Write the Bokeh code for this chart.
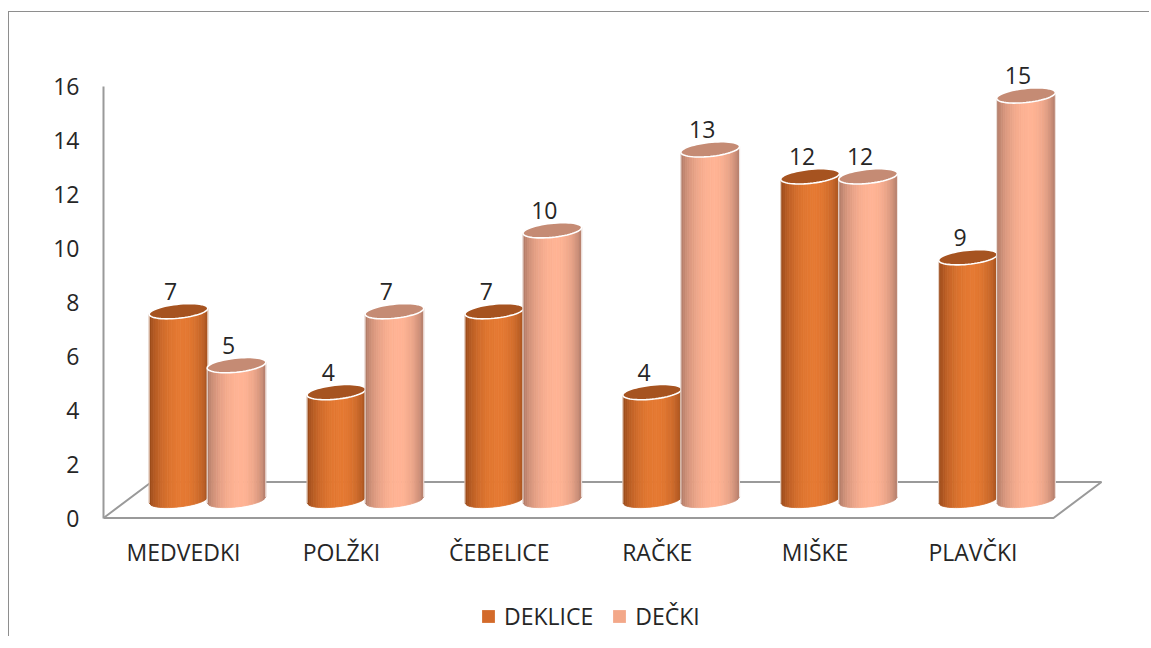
import numpy as np
from bokeh.plotting import figure
from bokeh.models import FixedTicker, Legend, LegendItem
from bokeh.core.properties import value
from bokeh.embed import file_html
from bokeh.resources import INLINE

# ---------------- data ----------------
categories = ["MEDVEDKI", "POLŽKI", "ČEBELICE", "RAČKE", "MIŠKE", "PLAVČKI"]
deklice = [7, 4, 7, 4, 12, 9]
decki = [5, 7, 10, 13, 12, 15]
series_names = ["DEKLICE", "DEČKI"]
y_ticks = [0, 2, 4, 6, 8, 10, 12, 14, 16]

# ---------------- layout / style constants ----------------
FONT = "Open Sans"
FS = "23px"
TXT = "#262626"
GRID_GRAY = "#9a9a9a"
PX_X = 157.9          # screen px per category step
PX_Y = 26.97          # screen px per value unit
FRAME_W, FRAME_H = 1037, 624
X_START = -80 / PX_X
Y_START = -(636 - 517.5) / PX_Y
Y_END = 16 + (86 - 12) / PX_Y
DEPTH_X, DEPTH_Y = 48 / PX_X, 36 / PX_Y      # 3D floor depth
HALF_W_PX = 29.5                              # cylinder radius (px)
ELL_B_PX = 7.0                                # ellipse semi-minor (px)
TILT = np.deg2rad(6)
SERIES_SHIFT_PX = [-29, 29]
N_STRIP = 26

body_colors = [
    ((146, 69, 24), (229, 121, 50), (160, 78, 29)),
    ((168, 117, 99), (255, 179, 148), (172, 121, 103)),
]
top_colors = ["#a65320", "#c58b74"]
legend_colors = ["#d36a2a", "#f3a889"]

p = figure(frame_width=FRAME_W, frame_height=FRAME_H,
           x_range=(X_START, X_START + FRAME_W / PX_X),
           y_range=(Y_START, Y_END),
           output_backend="svg", toolbar_location=None,
           min_border_left=94, min_border_right=9, min_border_top=0,
           min_border_bottom=0)
p.styles = {"border-top": "1px solid #8e8e8e", "border-left": "1px solid #8e8e8e",
            "margin-top": "11px", "margin-left": "8px"}
p.outline_line_color = None
p.xgrid.visible = False
p.ygrid.visible = False
p.xaxis.visible = False
p.background_fill_color = "white"

# ---------------- floor ----------------
fx0, fx1 = X_START, 870 / PX_X
p.patch([fx0, fx1, fx1 + DEPTH_X, fx0 + DEPTH_X],
        [0, 0, DEPTH_Y, DEPTH_Y],
        fill_color=None, line_color=GRID_GRAY, line_width=2)

# ---------------- cylinders ----------------
def shade(u, cols):
    left, bright, right = [np.array(c, float) for c in cols]
    pk = 0.15
    if u < pk:
        t = (u - pk) / (1 + pk)
        edge = left
    else:
        t = (u - pk) / (1 - pk)
        edge = right
    w = max(0.0, 1 - t * t) ** 0.75
    c = edge + (bright - edge) * w
    return "#%02x%02x%02x" % tuple(int(round(v)) for v in c)

base_y = DEPTH_Y / 2
us = np.linspace(-1, 1, N_STRIP + 1)
label_x, label_y, label_t = [], [], []
for s, vals in enumerate([deklice, decki]):
    xs_all, ys_all, cols = [], [], []
    top_xs, top_ys = [], []
    edge_xs, edge_ys = [], []
    for i, v in enumerate(vals):
        cx = i + (DEPTH_X * PX_X / 2 + SERIES_SHIFT_PX[s]) / PX_X
        top_c = base_y + v

        def bx(u):
            return cx + u * HALF_W_PX * np.cos(TILT) / PX_X

        def top(u):
            return top_c + u * HALF_W_PX * np.sin(TILT) / PX_Y

        def bot(u):
            return base_y + (u * HALF_W_PX * np.sin(TILT)
                             - ELL_B_PX * np.sqrt(max(0, 1 - u * u)) * np.cos(TILT)) / PX_Y

        for j in range(N_STRIP):
            u0, u1 = us[j], us[j + 1]
            xs_all.append([bx(u0), bx(u1), bx(u1), bx(u0)])
            ys_all.append([top(u0), top(u1), bot(u1), bot(u0)])
            cols.append(shade((u0 + u1) / 2, body_colors[s]))
        for u in (-1, 1):
            edge_xs.append([bx(u)] * 2)
            edge_ys.append([bot(u), top(u)])
        t = np.linspace(0, 2 * np.pi, 60)
        ex = HALF_W_PX * np.cos(t) * np.cos(TILT) - ELL_B_PX * np.sin(t) * np.sin(TILT)
        ey = HALF_W_PX * np.cos(t) * np.sin(TILT) + ELL_B_PX * np.sin(t) * np.cos(TILT)
        top_xs.append(list(cx + ex / PX_X))
        top_ys.append(list(top_c + ey / PX_Y))
        label_x.append(cx)
        label_y.append(top_c)
        label_t.append(str(v))
    p.patches(xs_all, ys_all, fill_color=cols, line_color=cols, line_width=0.8)
    p.multi_line(edge_xs, edge_ys, line_color="white", line_width=1, line_alpha=0.8)
    p.patches(top_xs, top_ys, fill_color=top_colors[s], line_color="white", line_width=1.6)

# data labels
p.text(x=label_x, y=label_y, text=label_t, x_offset=-8, y_offset=-20,
       text_align="center", text_baseline="alphabetic",
       text_font=value(FONT), text_font_size=FS, text_color=TXT)

# category labels (below the floor)
p.text(x=list(range(len(categories))), y=[0] * len(categories), text=categories,
       y_offset=34, text_align="center", text_baseline="middle",
       text_font=value(FONT), text_font_size=FS, text_color=TXT)

# ---------------- value axis ----------------
p.yaxis.ticker = FixedTicker(ticks=y_ticks)
p.yaxis.bounds = (0, 16)
p.yaxis.axis_line_color = GRID_GRAY
p.yaxis.axis_line_width = 2
p.yaxis.major_tick_line_color = None
p.yaxis.minor_tick_line_color = None
p.yaxis.major_label_standoff = 18
p.yaxis.major_label_text_font = FONT
p.yaxis.major_label_text_font_size = FS
p.yaxis.major_label_text_color = TXT

# ---------------- legend (swatch-only renderers, no visible data) ----------------
leg_r = [p.quad(left=[np.nan], right=[np.nan], top=[np.nan], bottom=[np.nan],
                fill_color=c, line_color=None)
         for c in legend_colors]
legend = Legend(items=[LegendItem(label=n, renderers=[r]) for n, r in zip(series_names, leg_r)],
                orientation="horizontal", location=(377, 4),
                glyph_width=16, glyph_height=16, label_height=32,
                label_standoff=8, spacing=18,
                padding=0, margin=0, border_line_color=None, background_fill_alpha=0,
                label_text_font=FONT, label_text_font_size=FS, label_text_color=TXT)
p.add_layout(legend)

open("out.html", "w").write(file_html(p, INLINE))
